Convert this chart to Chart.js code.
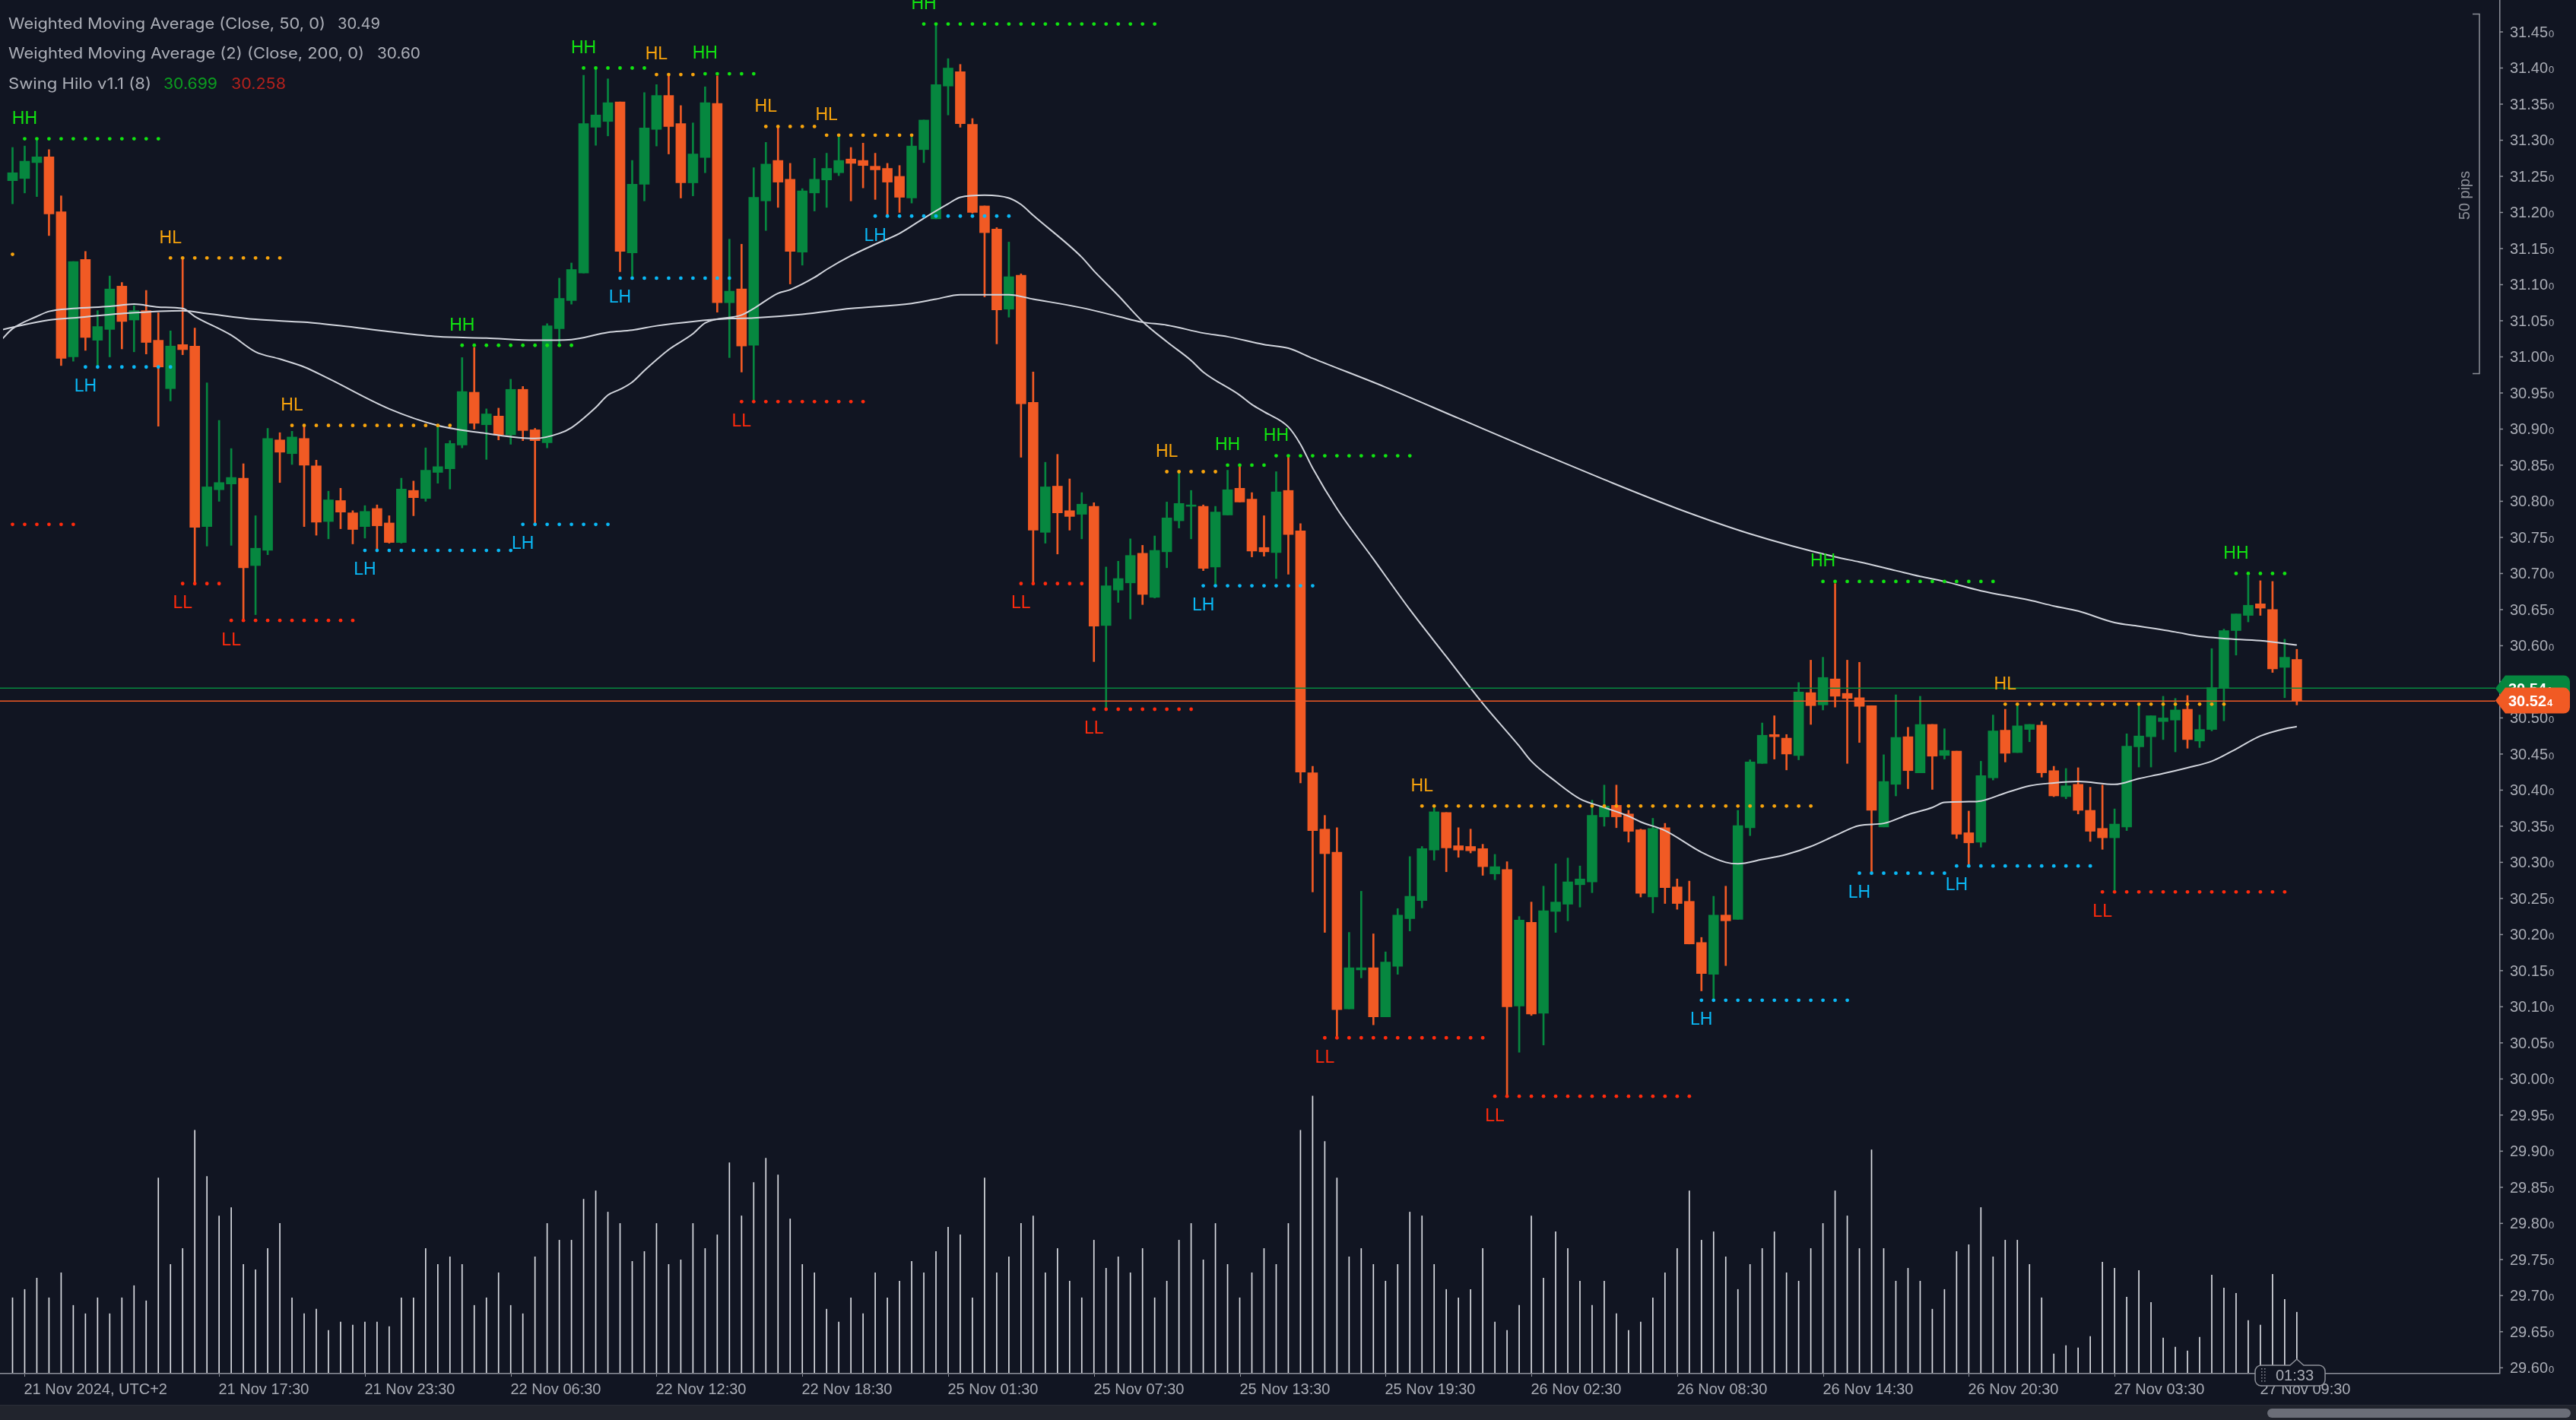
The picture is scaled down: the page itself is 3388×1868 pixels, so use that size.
<!DOCTYPE html>
<html>
<head>
<meta charset="utf-8">
<script src="https://cdn.jsdelivr.net/npm/chart.js@4.4.1/dist/chart.umd.min.js"></script>
<style>
html, body { margin: 0; padding: 0; background: #111522; overflow: hidden; }
canvas { display: block; }
</style>
</head>
<body>
<canvas id="chart" width="3388" height="1868"></canvas>
<script>
// XAG 30m candles, 21 Nov 09:30 -> 27 Nov 11:00
const openP = [
  31.244, 31.247, 31.269, 31.277, 31.201, 31.000, 31.135, 31.023, 31.038, 31.098,
  31.051, 31.064, 31.023, 30.956, 31.017, 31.015, 30.765, 30.816, 30.824, 30.832,
  30.711, 30.732, 30.885, 30.866, 30.887, 30.849, 30.772, 30.801, 30.784, 30.765,
  30.790, 30.770, 30.743, 30.815, 30.804, 30.840, 30.845, 30.878, 30.951, 30.906,
  30.918, 30.892, 30.955, 30.899, 30.881, 31.039, 31.078, 31.116, 31.318, 31.326,
  31.353, 31.144, 31.239, 31.315, 31.362, 31.323, 31.241, 31.276, 31.351, 31.075,
  31.094, 31.016, 31.216, 31.272, 31.246, 31.145, 31.227, 31.245, 31.255, 31.274,
  31.272, 31.264, 31.261, 31.250, 31.220, 31.287, 31.191, 31.375, 31.395, 31.322,
  31.209, 31.177, 31.066, 31.113, 30.937, 30.757, 30.821, 30.787, 30.782, 30.793,
  30.628, 30.677, 30.687, 30.728, 30.667, 30.730, 30.773, 30.793, 30.793, 30.709,
  30.781, 30.818, 30.803, 30.736, 30.729, 30.815, 30.759, 30.424, 30.346, 30.314,
  30.097, 30.151, 30.154, 30.086, 30.156, 30.222, 30.247, 30.317, 30.369, 30.323,
  30.322, 30.319, 30.284, 30.290, 30.101, 30.217, 30.091, 30.232, 30.242, 30.269,
  30.273, 30.363, 30.379, 30.367, 30.345, 30.252, 30.348, 30.266, 30.246, 30.189,
  30.145, 30.227, 30.221, 30.348, 30.437, 30.477, 30.472, 30.448, 30.535, 30.518,
  30.554, 30.534, 30.528, 30.517, 30.349, 30.408, 30.474, 30.424, 30.491, 30.448,
  30.454, 30.341, 30.328, 30.417, 30.483, 30.452, 30.484, 30.490, 30.427, 30.391,
  30.408, 30.372, 30.347, 30.334, 30.349, 30.460, 30.474, 30.495, 30.497, 30.512,
  30.468, 30.484, 30.541, 30.621, 30.642, 30.658, 30.650, 30.570, 30.581
];
const highP = [
  31.290, 31.292, 31.300, 31.287, 31.223, 31.132, 31.146, 31.064, 31.112, 31.103,
  31.071, 31.092, 31.061, 31.036, 31.137, 31.040, 30.964, 30.912, 30.873, 30.852,
  30.780, 30.901, 30.895, 30.897, 30.903, 30.857, 30.814, 30.818, 30.787, 30.794,
  30.795, 30.780, 30.832, 30.828, 30.874, 30.905, 30.884, 30.999, 31.013, 30.928,
  30.929, 30.969, 30.959, 30.901, 31.046, 31.109, 31.130, 31.390, 31.398, 31.385,
  31.353, 31.272, 31.366, 31.377, 31.391, 31.348, 31.324, 31.374, 31.389, 31.163,
  31.156, 31.262, 31.297, 31.317, 31.268, 31.233, 31.275, 31.282, 31.306, 31.290,
  31.296, 31.282, 31.268, 31.265, 31.305, 31.328, 31.461, 31.413, 31.405, 31.330,
  31.209, 31.179, 31.159, 31.115, 30.979, 30.854, 30.865, 30.831, 30.812, 30.798,
  30.709, 30.717, 30.748, 30.739, 30.752, 30.799, 30.839, 30.815, 30.795, 30.793,
  30.843, 30.849, 30.812, 30.780, 30.841, 30.863, 30.769, 30.433, 30.365, 30.348,
  30.203, 30.260, 30.201, 30.176, 30.236, 30.308, 30.322, 30.377, 30.369, 30.348,
  30.346, 30.325, 30.311, 30.301, 30.225, 30.245, 30.267, 30.298, 30.306, 30.295,
  30.386, 30.407, 30.407, 30.372, 30.346, 30.361, 30.354, 30.277, 30.274, 30.196,
  30.253, 30.267, 30.372, 30.442, 30.493, 30.503, 30.477, 30.549, 30.580, 30.584,
  30.686, 30.580, 30.577, 30.517, 30.449, 30.532, 30.487, 30.530, 30.491, 30.485,
  30.454, 30.371, 30.440, 30.504, 30.512, 30.517, 30.491, 30.495, 30.433, 30.430,
  30.431, 30.404, 30.407, 30.374, 30.478, 30.517, 30.503, 30.530, 30.527, 30.531,
  30.504, 30.596, 30.623, 30.644, 30.697, 30.690, 30.689, 30.609, 30.595
];
const lowP = [
  31.212, 31.227, 31.222, 31.168, 30.988, 30.994, 31.009, 30.987, 31.000, 31.011,
  31.007, 31.004, 30.904, 30.939, 31.003, 30.687, 30.738, 30.800, 30.739, 30.635,
  30.643, 30.726, 30.826, 30.851, 30.765, 30.753, 30.748, 30.762, 30.741, 30.749,
  30.732, 30.742, 30.742, 30.780, 30.800, 30.825, 30.817, 30.874, 30.900, 30.858,
  30.885, 30.879, 30.884, 30.769, 30.874, 31.016, 31.073, 31.116, 31.293, 31.306,
  31.118, 31.111, 31.216, 31.292, 31.281, 31.220, 31.223, 31.255, 31.062, 30.999,
  30.979, 30.940, 31.175, 31.207, 31.101, 31.127, 31.202, 31.207, 31.251, 31.216,
  31.234, 31.218, 31.197, 31.200, 31.213, 31.269, 31.191, 31.335, 31.318, 31.199,
  31.083, 31.018, 31.055, 30.861, 30.687, 30.742, 30.727, 30.760, 30.748, 30.578,
  30.513, 30.660, 30.637, 30.657, 30.666, 30.708, 30.763, 30.748, 30.704, 30.684,
  30.781, 30.799, 30.723, 30.724, 30.693, 30.699, 30.410, 30.259, 30.203, 30.058,
  30.097, 30.140, 30.075, 30.086, 30.145, 30.205, 30.237, 30.303, 30.287, 30.307,
  30.313, 30.282, 30.276, 29.976, 30.037, 30.088, 30.047, 30.203, 30.219, 30.238,
  30.258, 30.350, 30.348, 30.328, 30.252, 30.230, 30.243, 30.235, 30.187, 30.122,
  30.109, 30.157, 30.221, 30.337, 30.437, 30.443, 30.428, 30.442, 30.491, 30.511,
  30.515, 30.437, 30.466, 30.287, 30.349, 30.392, 30.402, 30.424, 30.401, 30.443,
  30.333, 30.295, 30.321, 30.414, 30.439, 30.452, 30.467, 30.418, 30.391, 30.388,
  30.367, 30.329, 30.318, 30.259, 30.344, 30.432, 30.432, 30.470, 30.453, 30.458,
  30.459, 30.482, 30.496, 30.587, 30.633, 30.642, 30.563, 30.528, 30.518
];
const closeP = [
  31.255, 31.271, 31.277, 31.198, 30.998, 31.132, 31.027, 31.042, 31.094, 31.049,
  31.064, 31.020, 30.986, 31.015, 31.010, 30.764, 30.820, 30.826, 30.833, 30.708,
  30.735, 30.887, 30.868, 30.889, 30.850, 30.771, 30.802, 30.785, 30.761, 30.786,
  30.766, 30.743, 30.817, 30.805, 30.843, 30.848, 30.880, 30.952, 30.908, 30.921,
  30.892, 30.955, 30.898, 30.884, 31.043, 31.081, 31.121, 31.323, 31.335, 31.352,
  31.146, 31.239, 31.317, 31.362, 31.319, 31.241, 31.281, 31.352, 31.075, 31.091,
  31.015, 31.221, 31.267, 31.242, 31.146, 31.230, 31.246, 31.261, 31.272, 31.268,
  31.265, 31.259, 31.242, 31.221, 31.292, 31.328, 31.377, 31.400, 31.323, 31.200,
  31.172, 31.065, 31.111, 30.935, 30.760, 30.820, 30.784, 30.779, 30.796, 30.627,
  30.683, 30.693, 30.725, 30.671, 30.732, 30.777, 30.797, 30.795, 30.707, 30.785,
  30.816, 30.799, 30.731, 30.730, 30.813, 30.754, 30.425, 30.344, 30.312, 30.096,
  30.154, 30.154, 30.086, 30.162, 30.227, 30.253, 30.319, 30.370, 30.320, 30.317,
  30.316, 30.294, 30.294, 30.100, 30.220, 30.090, 30.233, 30.245, 30.273, 30.277,
  30.365, 30.378, 30.363, 30.343, 30.257, 30.347, 30.265, 30.243, 30.187, 30.146,
  30.227, 30.219, 30.351, 30.439, 30.476, 30.474, 30.450, 30.536, 30.517, 30.556,
  30.530, 30.527, 30.516, 30.372, 30.412, 30.473, 30.427, 30.491, 30.447, 30.455,
  30.339, 30.327, 30.420, 30.482, 30.451, 30.489, 30.491, 30.424, 30.392, 30.406,
  30.372, 30.343, 30.334, 30.353, 30.461, 30.475, 30.503, 30.500, 30.511, 30.470,
  30.484, 30.542, 30.621, 30.644, 30.656, 30.652, 30.568, 30.584, 30.524
];
const volume = [
  99, 110, 125, 99, 132, 89, 78, 99, 78, 99,
  115, 95, 257, 143, 164, 320, 259, 207, 218, 143,
  136, 164, 197, 99, 78, 84, 56, 67, 63, 67,
  67, 61, 99, 99, 164, 143, 153, 143, 89, 99,
  132, 89, 78, 153, 197, 175, 175, 229, 240, 212,
  197, 147, 160, 197, 143, 149, 197, 164, 182, 277,
  207, 251, 283, 261, 203, 143, 132, 84, 67, 99,
  78, 132, 99, 121, 147, 132, 160, 192, 182, 99,
  257, 132, 153, 197, 207, 132, 164, 121, 99, 175,
  138, 153, 132, 164, 99, 121, 175, 197, 149, 197,
  143, 99, 132, 164, 143, 197, 320, 365, 305, 257,
  153, 164, 143, 121, 143, 212, 207, 143, 110, 99,
  110, 164, 67, 56, 89, 207, 125, 186, 164, 121,
  89, 121, 78, 56, 67, 99, 132, 164, 240, 175,
  186, 153, 110, 143, 164, 186, 132, 121, 164, 197,
  240, 207, 164, 294, 164, 121, 138, 121, 84, 110,
  160, 169, 218, 153, 175, 175, 143, 99, 25, 36,
  33, 48, 146, 138, 100, 135, 93, 46, 34, 29,
  47, 129, 112, 105, 69, 63, 130, 97, 80
];

// weighted moving averages, sampled along the drawn lines: [bar, value]
const wma50 = [
  [-1, 31.022], [0, 31.039], [2, 31.056], [3, 31.063], [5, 31.067], [8, 31.070], [10, 31.073], [12, 31.069],
  [14, 31.067], [15, 31.056], [18, 31.030], [20, 31.007], [22, 30.997], [24, 30.986], [26, 30.970],
  [31, 30.928], [35, 30.905], [39, 30.894], [43, 30.887], [45, 30.894], [46, 30.902], [48, 30.930],
  [49, 30.947], [50, 30.955], [51, 30.965], [52, 30.981], [53, 30.996], [54, 31.010], [56, 31.032],
  [57, 31.047], [60, 31.058], [61, 31.067], [63, 31.088], [64, 31.093], [66, 31.110], [67, 31.121],
  [69, 31.140], [71, 31.156], [73, 31.171], [75, 31.192], [77, 31.212], [78, 31.221], [80, 31.224],
  [82, 31.220], [83, 31.211], [84, 31.196], [88, 31.138], [89, 31.119], [91, 31.085], [93, 31.049],
  [95, 31.021], [97, 30.995], [98, 30.979], [101, 30.947], [102, 30.934], [103, 30.924], [105, 30.903],
  [106, 30.879], [107, 30.846], [109, 30.790], [112, 30.720], [115, 30.650], [118, 30.585], [121, 30.520],
  [124, 30.461], [125, 30.440], [127, 30.412], [129, 30.388], [131, 30.376], [133, 30.364], [134, 30.356],
  [136, 30.344], [139, 30.314], [141, 30.300], [142, 30.298], [144, 30.304], [146, 30.311], [148, 30.322],
  [150, 30.337], [152, 30.351], [154, 30.354], [156, 30.366], [158, 30.376], [159, 30.383], [161, 30.384],
  [162, 30.385], [164, 30.396], [166, 30.406], [168, 30.410], [170, 30.412], [173, 30.408], [175, 30.416],
  [177, 30.423], [179, 30.431], [181, 30.440], [183, 30.457], [185, 30.475], [187, 30.485], [188, 30.488]
];
const wma200 = [
  [-1, 31.037], [0, 31.041], [3, 31.051], [5, 31.054], [9, 31.060], [14, 31.064], [16, 31.060], [20, 31.052],
  [24, 31.048], [27, 31.043], [31, 31.035], [35, 31.028], [39, 31.026], [43, 31.023], [46, 31.024],
  [49, 31.034], [51, 31.037], [53, 31.043], [56, 31.049], [59, 31.053], [61, 31.054], [65, 31.059],
  [69, 31.067], [74, 31.074], [76, 31.080], [78, 31.086], [80, 31.086], [82, 31.086], [84, 31.080],
  [88, 31.068], [91, 31.056], [93, 31.048], [95, 31.044], [98, 31.033], [100, 31.028], [103, 31.017],
  [105, 31.012], [107, 30.998], [113, 30.958], [119, 30.915], [125, 30.872], [131, 30.830], [137, 30.790],
  [143, 30.755], [150, 30.723], [152, 30.716], [155, 30.704], [157, 30.696], [159, 30.689], [162, 30.676],
  [166, 30.663], [168, 30.655], [170, 30.648], [173, 30.632], [175, 30.627], [178, 30.619], [180, 30.613],
  [182, 30.610], [185, 30.607], [188, 30.601]
];

// Swing Hilo levels: [type, price, first bar, last bar, labelled]
const swings = [
  ['HL', 31.142, 0, 0, false], ['HH', 31.302, 1, 12, true], ['LL', 30.768, 0, 5, false],
  ['LH', 30.986, 6, 13, true], ['HL', 31.137, 13, 22, true], ['LL', 30.686, 14, 17, true],
  ['LL', 30.635, 18, 28, true], ['HL', 30.905, 23, 36, true], ['LH', 30.732, 29, 41, true],
  ['HH', 31.016, 37, 46, true], ['LH', 30.768, 42, 49, true], ['HH', 31.400, 47, 52, true],
  ['LH', 31.109, 50, 59, true], ['HL', 31.391, 53, 56, true], ['HH', 31.392, 57, 61, true],
  ['LL', 30.938, 60, 70, true], ['HL', 31.319, 62, 66, true], ['HL', 31.307, 67, 74, true],
  ['LH', 31.195, 71, 82, true], ['HH', 31.461, 75, 94, true], ['LL', 30.686, 83, 88, true],
  ['LL', 30.512, 89, 97, true], ['HL', 30.841, 95, 99, true], ['LH', 30.683, 98, 107, true],
  ['HH', 30.850, 100, 103, true], ['HH', 30.863, 104, 115, true], ['LL', 30.057, 108, 121, true],
  ['HL', 30.378, 116, 148, true], ['LL', 29.976, 122, 138, true], ['LH', 30.109, 139, 151, true],
  ['HH', 30.689, 149, 163, true], ['LH', 30.285, 152, 159, true], ['LH', 30.295, 160, 171, true],
  ['HL', 30.519, 164, 182, true], ['LL', 30.259, 172, 187, true], ['HH', 30.700, 183, 187, true]
];

const timeTicks = [1, 17, 29, 41, 53, 65, 77, 89, 101, 113, 125, 137, 149, 161, 173, 185];
const timeLabels = [
  '21 Nov 2024, UTC+2', '21 Nov 17:30', '21 Nov 23:30', '22 Nov 06:30', '22 Nov 12:30',
  '22 Nov 18:30', '25 Nov 01:30', '25 Nov 07:30', '25 Nov 13:30', '25 Nov 19:30',
  '26 Nov 02:30', '26 Nov 08:30', '26 Nov 14:30', '26 Nov 20:30', '27 Nov 03:30', '27 Nov 09:30'
];
const priceTicks = [
  '31.45', '31.40', '31.35', '31.30', '31.25', '31.20', '31.15', '31.10', '31.05', '31.00',
  '30.95', '30.90', '30.85', '30.80', '30.75', '30.70', '30.65', '30.60', '30.55', '30.50',
  '30.45', '30.40', '30.35', '30.30', '30.25', '30.20', '30.15', '30.10', '30.05', '30.00',
  '29.95', '29.90', '29.85', '29.80', '29.75', '29.70', '29.65', '29.60'
];
const askPrice = 30.541;
const lastPrice = 30.524;

const BG = '#111522';
const UP = '#06873f';
const DOWN = '#f15a24';
const AXIS_TEXT = '#a9acb5';
const FONT = '"Liberation Sans", Arial, sans-serif';
const swingColor = { HH: '#11e311', HL: '#f7a30c', LH: '#0ab8f5', LL: '#ff2a0c' };

const bars = closeP.map((_, i) => i);
const candleColor = i => closeP[i] >= openP[i] ? UP : DOWN;

function swingPoints(type) {
  const pts = [];
  swings.filter(s => s[0] === type).forEach(s => {
    for (let k = s[2]; k <= s[3]; k++) pts.push({ x: k, y: s[1] });
  });
  return pts;
}

function priceText(c, main, sub, x, base, big, small, color, weight) {
  c.fillStyle = color;
  c.textAlign = 'left';
  c.textBaseline = 'alphabetic';
  c.font = weight + ' ' + big + 'px ' + FONT;
  c.fillText(main, x, base);
  const w = c.measureText(main).width;
  c.font = weight + ' ' + small + 'px ' + FONT;
  c.fillText(sub, x + w + 1, base);
}

// legend text in the screenshot is wider than Arial: stretch it to the measured width
function fitText(c, text, x, base, width) {
  c.font = '20px Inter, ' + FONT;
  const w = c.measureText(text).width;
  c.save();
  c.translate(x, base);
  c.scale(width / w, 1);
  c.fillText(text, 0, 0);
  c.restore();
}

function priceTag(c, y, color, main, sub) {
  const x0 = 3282, xb = 3295, x1 = 3380, h = 34, r = 8;
  c.fillStyle = color;
  c.beginPath();
  c.moveTo(x0, y);
  c.lineTo(xb, y - h / 2);
  c.lineTo(x1 - r, y - h / 2);
  c.arcTo(x1, y - h / 2, x1, y - h / 2 + r, r);
  c.lineTo(x1, y + h / 2 - r);
  c.arcTo(x1, y + h / 2, x1 - r, y + h / 2, r);
  c.lineTo(xb, y + h / 2);
  c.closePath();
  c.fill();
  priceText(c, main, sub, 3299, y + 7.5, 20, 13, '#ffffff', 'bold');
}

const decor = {
  id: 'decor',
  beforeDraw(chart) {
    const c = chart.ctx;
    c.save();
    c.fillStyle = BG;
    c.fillRect(0, 0, chart.width, chart.height);
    c.restore();
  },
  afterDraw(chart) {
    const c = chart.ctx;
    const xs = chart.scales.x, ys = chart.scales.y;
    const area = chart.chartArea;
    c.save();

    // current price lines
    c.lineWidth = 1.5;
    [[askPrice, UP], [lastPrice, DOWN]].forEach(([p, col]) => {
      const y = Math.round(ys.getPixelForValue(p)) + 0.25;
      c.strokeStyle = col;
      c.beginPath(); c.moveTo(0, y); c.lineTo(3282, y); c.stroke();
    });

    // swing labels
    c.font = '23px ' + FONT;
    c.textAlign = 'center';
    c.textBaseline = 'middle';
    swings.forEach(s => {
      if (!s[4]) return;
      const x = xs.getPixelForValue(s[2]);
      const up = s[0] === 'HH' || s[0] === 'HL';
      const y = ys.getPixelForValue(s[1]) + (up ? -26 : 26);
      c.fillStyle = swingColor[s[0]];
      c.fillText(s[0], x, y);
    });

    // legend
    c.textAlign = 'left';
    c.textBaseline = 'alphabetic';
    c.fillStyle = '#abaeb7';
    fitText(c, 'Weighted Moving Average (Close, 50, 0)', 11, 37.5, 417);
    fitText(c, '30.49', 444, 37.5, 56);
    fitText(c, 'Weighted Moving Average (2) (Close, 200, 0)', 11, 77, 468);
    fitText(c, '30.60', 496, 77, 57);
    fitText(c, 'Swing Hilo v1.1 (8)', 11, 116.5, 188);
    c.fillStyle = '#0c9c20';
    fitText(c, '30.699', 215, 116.5, 71);
    c.fillStyle = '#b3211d';
    fitText(c, '30.258', 304, 116.5, 72);

    // axes lines
    c.strokeStyle = '#8d9099';
    c.lineWidth = 1.5;
    c.beginPath();
    c.moveTo(area.right + 0.75, 0); c.lineTo(area.right + 0.75, area.bottom + 1.5);
    c.moveTo(0, area.bottom + 0.75); c.lineTo(area.right + 1.5, area.bottom + 0.75);
    c.stroke();

    // price scale labels
    priceTicks.forEach(t => {
      const y = ys.getPixelForValue(parseFloat(t));
      c.strokeStyle = '#8d9099';
      c.lineWidth = 1.5;
      c.beginPath(); c.moveTo(area.right, y); c.lineTo(area.right + 5, y); c.stroke();
      priceText(c, t, '0', 3301, y + 7, 20, 13, AXIS_TEXT, 'normal');
    });

    // time scale labels
    timeTicks.forEach((k, j) => {
      const x = Math.round(xs.getPixelForValue(k)) + 0.5;
      c.strokeStyle = '#8d9099';
      c.lineWidth = 1;
      c.beginPath(); c.moveTo(x, area.bottom + 1.5); c.lineTo(x, area.bottom + 5); c.stroke();
      c.fillStyle = AXIS_TEXT;
      c.font = '20px ' + FONT;
      c.textAlign = 'left';
      c.textBaseline = 'alphabetic';
      c.fillText(timeLabels[j], x - 1, 1834);
    });

    // price tags
    priceTag(c, ys.getPixelForValue(askPrice), UP, '30.54', '1');
    priceTag(c, ys.getPixelForValue(lastPrice), DOWN, '30.52', '4');

    // bar countdown box
    const bx = 2966, by = 1796, bw = 92, bh = 27, cx = xs.getPixelForValue(188);
    c.fillStyle = BG;
    c.strokeStyle = '#8d9099';
    c.lineWidth = 1.5;
    c.beginPath();
    c.moveTo(bx + 8, by);
    c.lineTo(cx - 9, by); c.lineTo(cx, by - 8); c.lineTo(cx + 9, by);
    c.arcTo(bx + bw, by, bx + bw, by + bh, 8);
    c.arcTo(bx + bw, by + bh, bx, by + bh, 8);
    c.arcTo(bx, by + bh, bx, by, 8);
    c.arcTo(bx, by, bx + bw, by, 8);
    c.closePath();
    c.fill(); c.stroke();
    c.fillStyle = '#8d9099';
    for (let i = 0; i < 5; i++) {
      c.fillRect(2974, 1800 + i * 4, 1.5, 1.5);
      c.fillRect(2978, 1800 + i * 4, 1.5, 1.5);
    }
    c.fillStyle = AXIS_TEXT;
    c.font = '20px ' + FONT;
    c.textBaseline = 'middle';
    c.fillText('01:33', 2993, by + bh / 2 + 1);

    // 50 pips bracket
    c.strokeStyle = '#8d9099';
    c.lineWidth = 1.5;
    c.beginPath();
    c.moveTo(3252, 18.5); c.lineTo(3261, 18.5); c.lineTo(3261, 491.5); c.lineTo(3252, 491.5);
    c.stroke();
    c.save();
    c.translate(3242, 257);
    c.rotate(-Math.PI / 2);
    c.textAlign = 'center';
    c.textBaseline = 'middle';
    c.fillStyle = '#8d9099';
    c.font = '20px ' + FONT;
    c.fillText('50 pips', 0, 0);
    c.restore();

    // bottom band with scrollbar
    c.fillStyle = '#21242d';
    c.fillRect(0, 1848, chart.width, 20);
    c.fillStyle = '#2b2e38';
    c.fillRect(0, 1848, chart.width, 1);
    c.fillStyle = '#6b6e78';
    c.beginPath();
    c.roundRect(2982, 1853, 399, 12, 6);
    c.fill();

    c.restore();
  }
};

new Chart(document.getElementById('chart'), {
  type: 'bar',
  data: {
    datasets: [
      ...['HH', 'HL', 'LH', 'LL'].map(t => ({
        type: 'line',
        data: swingPoints(t),
        showLine: false,
        pointRadius: 2.4,
        pointBorderWidth: 0,
        pointBackgroundColor: swingColor[t],
        yAxisID: 'y'
      })),
      {
        type: 'line',
        data: wma50.map(p => ({ x: p[0], y: p[1] })),
        borderColor: '#d1d4dc',
        borderWidth: 2,
        pointRadius: 0,
        cubicInterpolationMode: 'monotone',
        yAxisID: 'y'
      },
      {
        type: 'line',
        data: wma200.map(p => ({ x: p[0], y: p[1] })),
        borderColor: '#d1d4dc',
        borderWidth: 2,
        pointRadius: 0,
        cubicInterpolationMode: 'monotone',
        yAxisID: 'y'
      },
      {
        data: bars.map(i => ({ x: i, y: [openP[i], closeP[i]] })),
        backgroundColor: bars.map(candleColor),
        barThickness: 13,
        grouped: false,
        yAxisID: 'y'
      },
      {
        data: bars.map(i => ({ x: i, y: [lowP[i], highP[i]] })),
        backgroundColor: bars.map(candleColor),
        barThickness: 2,
        grouped: false,
        yAxisID: 'y'
      },
      {
        data: bars.map(i => ({ x: i, y: volume[i] })),
        backgroundColor: '#dcdee4',
        barThickness: 1,
        grouped: false,
        yAxisID: 'vol'
      }
    ]
  },
  options: {
    responsive: false,
    devicePixelRatio: 1,
    animation: false,
    events: [],
    layout: { padding: { left: 0, top: 0, right: 101, bottom: 62 } },
    plugins: { legend: { display: false }, tooltip: { enabled: false } },
    scales: {
      x: { type: 'linear', display: false, offset: false, min: -0.78125, max: 204.65625 },
      y: { type: 'linear', display: false, min: 29.593, max: 31.490 },
      vol: { type: 'linear', display: false, min: 0, max: 1806 }
    }
  },
  plugins: [decor]
});
</script>
</body>
</html>
